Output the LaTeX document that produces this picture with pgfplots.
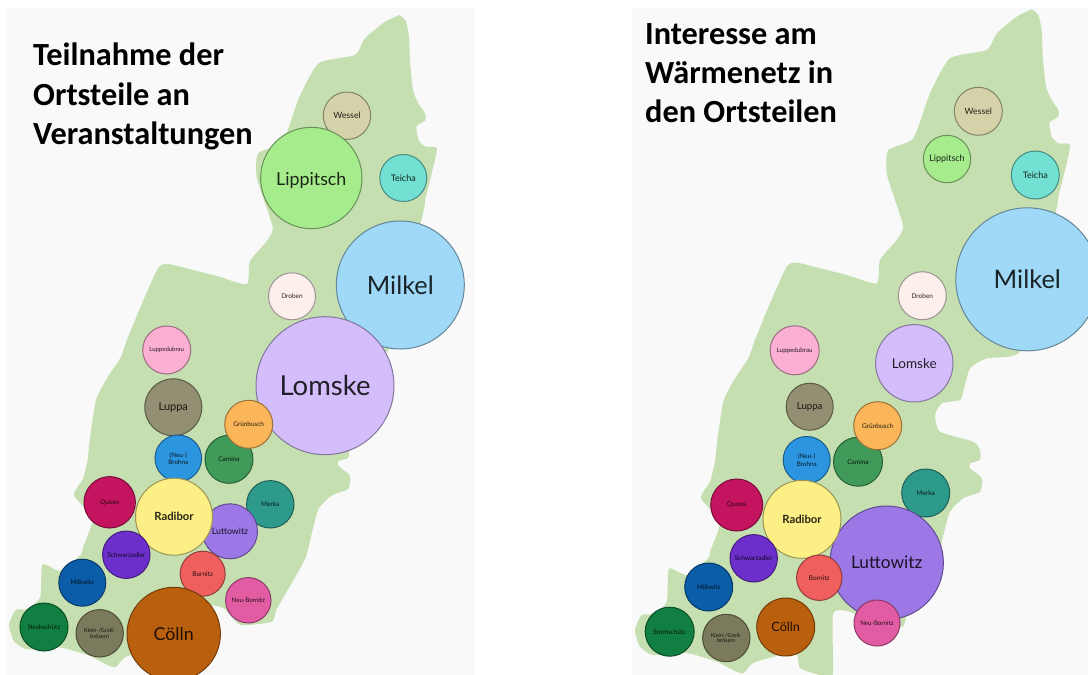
\documentclass[border=0pt]{standalone}
\usepackage{pgfplots}
\usepackage{pgfplotstable}
\usepackage{fontspec}
\pgfplotsset{compat=1.18}
\setmainfont{Carlito}
\newfontfamily\bubfont{Lato}
\definecolor{panel}{HTML}{F9F9F9}
\definecolor{mapgreen}{HTML}{C5DFB1}
\definecolor{cWessel}{HTML}{D5D2A9}
\definecolor{cLipp}{HTML}{A6EB8C}
\definecolor{cTeicha}{HTML}{72E0D2}
\definecolor{cMilkel}{HTML}{9FD9F7}
\definecolor{cDroben}{HTML}{FCEFEC}
\definecolor{cLuppe}{HTML}{FBAFD2}
\definecolor{cLomske}{HTML}{D3BEFB}
\definecolor{cLuppa}{HTML}{928F72}
\definecolor{cGruen}{HTML}{FBB65A}
\definecolor{cCamina}{HTML}{409A59}
\definecolor{cBrohna}{HTML}{2B95E0}
\definecolor{cQuoos}{HTML}{C5145F}
\definecolor{cRadibor}{HTML}{FBEF85}
\definecolor{cMerka}{HTML}{2E9A8C}
\definecolor{cLutt}{HTML}{9C78E6}
\definecolor{cSchw}{HTML}{6C2FCB}
\definecolor{cBornitz}{HTML}{EE5F5E}
\definecolor{cMilk}{HTML}{0B5DA8}
\definecolor{cNeuB}{HTML}{E25CA4}
\definecolor{cColln}{HTML}{B9600F}
\definecolor{cStroh}{HTML}{117F42}
\definecolor{cKlein}{HTML}{7B7A5C}
\pgfplotstableread{
x y
1031.7 9.3
1038.3 15
1041.7 30
1042.7 56.7
1046 86.7
1051.7 100
1058.3 110
1058.3 116.7
1049.3 122.7
1051.7 136.7
1058.3 143.3
1070 145
1065 170
1058.3 196.7
1056.7 208
1040 280
1020 351.7
986.7 358.3
970 368.3
963.3 391.7
960 400
941.7 403.3
935 415
940 431.7
973.3 441.7
980 450
980 460
970 463.3
970 468.3
981.7 478.3
980 491.7
963.3 498.3
950 511.7
943.3 535
936.7 561.7
920 591.7
906.7 615
902 627
870 630
853 613
833.3 613.3
832.7 675
820 675
800 668
796.7 653
780 655
753 663
743.3 673.3
733 670
716.7 661.7
686.7 653
653.3 655
640 646.7
635 630
641.7 615
653.3 614
666.7 601.7
669 568.7
686.7 575
708.3 558.3
710 551.7
720 521.7
701 498.3
710 481.7
715 461.7
716.7 445
723.3 401.7
735 378.3
748.3 358.3
755 340
770 303.3
786.7 266.7
796.7 262.7
820 268.3
846.7 275
876.7 283.3
880 260
896.7 240
903.3 226.7
895 200
886.7 173.3
888.3 150
913.3 138.3
930 93.3
950 58.3
986.7 50
996.7 33.3
1016.7 16.7
1031.7 9.3
}\outline
% x y r colour fontsize label
\newcommand\bub[6]{%
  \addplot[only marks, mark=*, mark size=#3,
    mark options={draw=#4!62!black, fill=#4, line width=1pt},
    nodes near coords={#6},
    nodes near coords align={center},
    every node near coord/.style={anchor=center, inner sep=0pt, align=center,
      text=#4!16!black, font=\bubfont\fontsize{#5}{#5}\selectfont}] coordinates {(#1,#2)};
}
\begin{document}
\begin{tikzpicture}
\begin{axis}[
  width=1088pt, height=675pt, scale only axis,
  xmin=0, xmax=1088, ymin=0, ymax=675, y dir=reverse,
  hide axis, clip=true]
\addplot[fill=panel, draw=none] coordinates {(7,8) (475,8) (475,675) (7,675) (7,8)};
\addplot[fill=panel, draw=none] coordinates {(632,8) (1088,8) (1088,675) (632,675) (632,8)};
\addplot[fill=mapgreen, draw=none, smooth, tension=0.35] table[x expr=(\thisrow{x}-625.8)/1.017, y expr=(\thisrow{y}+6)/1.018] {\outline};
\addplot[fill=mapgreen, draw=none, smooth, tension=0.35] table[x=x, y=y] {\outline};
% left panel
\bub{347}{115.7}{23.7}{cWessel}{8.7}{Wessel}
\bub{311.3}{178}{50.7}{cLipp}{17.8}{\rule{0pt}{1em}Lippitsch}
\bub{403.3}{178}{23.5}{cTeicha}{9}{Teicha}
\bub{400.3}{285}{64}{cMilkel}{25.3}{Milkel}
\bub{292}{296.3}{23.5}{cDroben}{6.5}{Droben}
\bub{325}{385.7}{69}{cLomske}{27.5}{Lomske}
\bub{166.7}{350}{24}{cLuppe}{6}{Luppedubrau}
\bub{173.3}{407.3}{28.5}{cLuppa}{11}{Luppa}
\bub{229}{459.3}{24}{cCamina}{6.5}{Camina}
\bub{248.7}{424.3}{24}{cGruen}{6.4}{Grünbusch}
\bub{178.3}{458.3}{23.3}{cBrohna}{6.3}{(Neu-)\\[1pt]Brohna}
\bub{109.7}{502.3}{25.7}{cQuoos}{6.5}{Quoos}
\bub{270.3}{504.3}{23.7}{cMerka}{6.5}{Merka}
\bub{230}{531.3}{27.5}{cLutt}{8.8}{Luttowitz}
\bub{174}{516.7}{38.5}{cRadibor}{11.3}{\bfseries Radibor}
\bub{126.3}{554.7}{23.7}{cSchw}{6.5}{Schwarzadler}
\bub{202.7}{573.7}{22.5}{cBornitz}{6.5}{Bornitz}
\bub{82.3}{582.7}{23.5}{cMilk}{6.2}{Milkwitz}
\bub{248.3}{600.3}{22.7}{cNeuB}{6.2}{Neu-Bornitz}
\bub{173.7}{634}{46.7}{cColln}{17.8}{Cölln}
\bub{44}{627}{24}{cStroh}{6.3}{Strohschütz}
\bub{99.7}{633.3}{23.7}{cKlein}{5.5}{Klein-/Groß-\\brösern}
% right panel
\bub{978.3}{111.3}{24}{cWessel}{8.7}{Wessel}
\bub{947}{159}{23.7}{cLipp}{9}{Lippitsch}
\bub{1035.3}{175}{24}{cTeicha}{9}{Teicha}
\bub{1027.3}{279.3}{71.5}{cMilkel}{25.5}{Milkel}
\bub{922.3}{295.7}{24}{cDroben}{6.5}{Droben}
\bub{794.7}{350.3}{24.5}{cLuppe}{6.2}{Luppedubrau}
\bub{914.3}{363.3}{38.7}{cLomske}{13.5}{Lomske}
\bub{809.7}{406.7}{23.5}{cLuppa}{9.6}{Luppa}
\bub{858}{461.7}{24.5}{cCamina}{6.5}{Camina}
\bub{877.7}{425.7}{24}{cGruen}{6.5}{Grünbusch}
\bub{806.7}{460}{23.5}{cBrohna}{6.3}{(Neu-)\\[1pt]Brohna}
\bub{736.7}{505}{26}{cQuoos}{6.5}{Quoos}
\bub{925.7}{493}{24}{cMerka}{6.5}{Merka}
\bub{886.7}{562.7}{56.7}{cLutt}{17.3}{Luttowitz}
\bub{802}{519.3}{39}{cRadibor}{11.3}{\bfseries Radibor}
\bub{753.7}{558.3}{23.7}{cSchw}{6.5}{Schwarzadler}
\bub{819.3}{577.7}{22.7}{cBornitz}{6.5}{Bornitz}
\bub{708.7}{587}{24}{cMilk}{6.2}{Milkwitz}
\bub{877}{623}{23}{cNeuB}{6.2}{Neu-Bornitz}
\bub{785.7}{627}{29}{cColln}{12.7}{Cölln}
\bub{669.7}{631.7}{24.5}{cStroh}{6.3}{Strohschütz}
\bub{726.3}{638}{23.7}{cKlein}{5.5}{Klein-/Groß-\\brösern}
% titles
\node[anchor=base west, inner sep=0pt, font=\bfseries\fontsize{32.3}{32.3}\selectfont] at (axis cs:33,65.7) {Teilnahme der};
\node[anchor=base west, inner sep=0pt, font=\bfseries\fontsize{32.3}{32.3}\selectfont] at (axis cs:33,105) {Ortsteile an};
\node[anchor=base west, inner sep=0pt, font=\bfseries\fontsize{32.3}{32.3}\selectfont] at (axis cs:33,144.3) {Veranstaltungen};
\node[anchor=base west, inner sep=0pt, font=\bfseries\fontsize{32.3}{32.3}\selectfont] at (axis cs:645,44.3) {Interesse am};
\node[anchor=base west, inner sep=0pt, font=\bfseries\fontsize{32.3}{32.3}\selectfont] at (axis cs:645,83.3) {Wärmenetz in};
\node[anchor=base west, inner sep=0pt, font=\bfseries\fontsize{32.3}{32.3}\selectfont] at (axis cs:645,122.3) {den Ortsteilen};
\end{axis}
\pgfresetboundingbox
\path[use as bounding box] (0,0) rectangle (1088pt,675pt);
\end{tikzpicture}
\end{document}
